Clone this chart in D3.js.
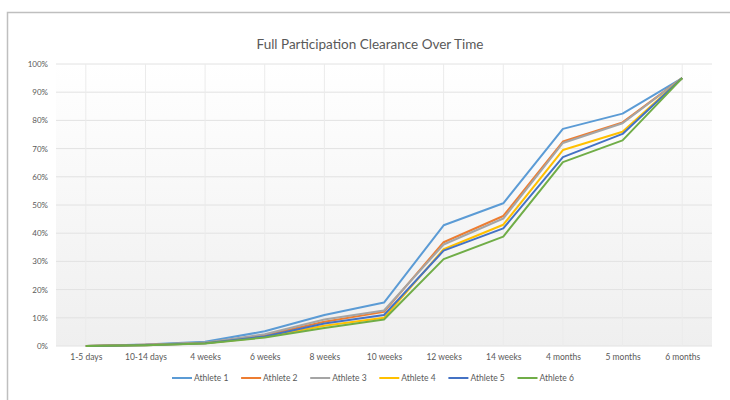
<!DOCTYPE html>
<html>
<head>
<meta charset="utf-8">
<script src="https://cdn.jsdelivr.net/npm/d3@7"></script>
<style>
body { margin: 0; background: #fff; }
text { font-family: "Lato", "Open Sans", sans-serif; }
</style>
</head>
<body>
<div id="chart"></div>
<script>
var categories = ["1-5 days", "10-14 days", "4 weeks", "6 weeks", "8 weeks", "10 weeks",
  "12 weeks", "14 weeks", "4 months", "5 months", "6 months"];
var seriesNames = ["Athlete 1", "Athlete 2", "Athlete 3", "Athlete 4", "Athlete 5", "Athlete 6"];
var athlete1 = [0, 0.5, 1.5, 5.2, 11, 15.4, 42.8, 50.6, 77, 82.4, 95];
var athlete2 = [0, 0.4, 1.1, 3.8, 8.6, 12.1, 36.8, 46.1, 72.5, 79.3, 95];
var athlete3 = [0, 0.4, 1.2, 4.2, 9.4, 12.6, 36, 45.2, 72, 79, 95];
var athlete4 = [0, 0.3, 1, 3.2, 7.2, 10, 34.3, 43, 69.5, 76, 95];
var athlete5 = [0, 0.3, 1, 3.4, 8, 11, 33.8, 41.7, 67, 75.2, 95];
var athlete6 = [0, 0.3, 0.9, 3, 6.4, 9.4, 30.8, 38.8, 65.2, 72.9, 95];
var yTicks = [0, 10, 20, 30, 40, 50, 60, 70, 80, 90, 100];
var colors = ["#5B9BD5", "#ED7D31", "#A5A5A5", "#FFC000", "#4472C4", "#70AD47"];

var allSeries = [athlete1, athlete2, athlete3, athlete4, athlete5, athlete6];

var width = 730;
var height = 400;
var plotLeft = 56;
var plotRight = 712;
var plotTop = 64;
var plotBottom = 346;

var svg = d3.select("#chart")
  .append("svg")
  .attr("width", width)
  .attr("height", height);

// outer frame
svg.append("rect")
  .attr("x", 7.5).attr("y", 12.5)
  .attr("width", 740).attr("height", 400)
  .attr("fill", "#fff")
  .attr("stroke", "#bfbfbf")
  .attr("stroke-width", 1.5);

var defs = svg.append("defs");
var grad = defs.append("linearGradient")
  .attr("id", "bg").attr("x1", 0).attr("y1", 0).attr("x2", 0).attr("y2", 1);
grad.append("stop").attr("offset", "0%").attr("stop-color", "#ffffff");
grad.append("stop").attr("offset", "100%").attr("stop-color", "#efefef");

svg.append("rect")
  .attr("x", plotLeft).attr("y", plotTop)
  .attr("width", plotRight - plotLeft).attr("height", plotBottom - plotTop)
  .attr("fill", "url(#bg)");

var xScale = d3.scalePoint()
  .domain(categories)
  .range([plotLeft, plotRight])
  .padding(0.5);

var yScale = d3.scaleLinear()
  .domain([0, 100])
  .range([plotBottom, plotTop]);

// horizontal grid
svg.append("g")
  .selectAll("line")
  .data(yTicks)
  .enter()
  .append("line")
  .attr("x1", plotLeft).attr("x2", plotRight)
  .attr("y1", function(d) { return yScale(d); })
  .attr("y2", function(d) { return yScale(d); })
  .attr("stroke", "#e2e2e2")
  .attr("stroke-width", 1);

// vertical grid
svg.append("g")
  .selectAll("line")
  .data(categories)
  .enter()
  .append("line")
  .attr("x1", function(d) { return xScale(d); })
  .attr("x2", function(d) { return xScale(d); })
  .attr("y1", plotTop).attr("y2", plotBottom)
  .attr("stroke", "#ebebeb")
  .attr("stroke-width", 1);

var yAxis = d3.axisLeft(yScale)
  .tickValues(yTicks)
  .tickFormat(function(d) { return d + "%"; })
  .tickSize(0)
  .tickPadding(8);

var yG = svg.append("g")
  .attr("transform", "translate(" + plotLeft + ",0)")
  .call(yAxis);
yG.select(".domain").remove();
yG.selectAll("text").attr("fill", "#595959").attr("font-size", 8);

var xAxis = d3.axisBottom(xScale).tickSize(0).tickPadding(8);
var xG = svg.append("g")
  .attr("transform", "translate(0," + plotBottom + ")")
  .call(xAxis);
xG.select(".domain").remove();
xG.selectAll("text").attr("fill", "#595959").attr("font-size", 8.5);

var line = d3.line()
  .x(function(d, i) { return xScale(categories[i]); })
  .y(function(d) { return yScale(d); });

svg.append("g")
  .selectAll("path")
  .data(allSeries)
  .enter()
  .append("path")
  .attr("d", line)
  .attr("fill", "none")
  .attr("stroke", function(d, i) { return colors[i]; })
  .attr("stroke-width", 2)
  .attr("stroke-linejoin", "round");

svg.append("text")
  .attr("x", 370).attr("y", 49)
  .attr("text-anchor", "middle")
  .attr("font-size", 13.5)
  .attr("fill", "#595959")
  .text("Full Participation Clearance Over Time");

var legend = svg.append("g");
var item = legend.selectAll("g")
  .data(seriesNames)
  .enter()
  .append("g")
  .attr("transform", function(d, i) { return "translate(" + (172 + i * 69.1) + ",378)"; });
item.append("line")
  .attr("x1", 0).attr("x2", 20)
  .attr("stroke", function(d, i) { return colors[i]; })
  .attr("stroke-width", 2);
item.append("text")
  .attr("x", 22).attr("y", 3)
  .attr("font-size", 8.5)
  .attr("fill", "#595959")
  .text(function(d) { return d; });
</script>
</body>
</html>
